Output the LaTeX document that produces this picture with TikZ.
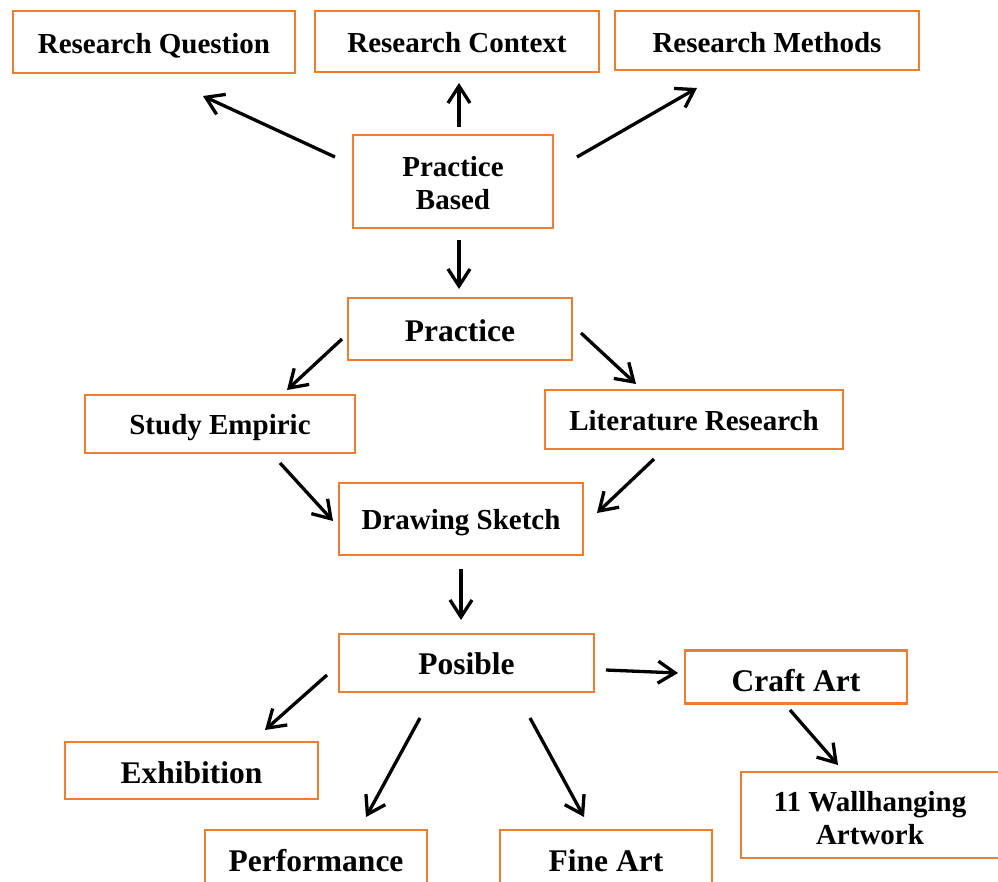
\documentclass[tikz,border=0pt]{standalone}
\usepackage{fontspec}
\setmainfont{Liberation Serif}
\usetikzlibrary{arrows.meta,calc}

\begin{document}
\begin{tikzpicture}[x=1pt, y=-1pt,
    tallbox/.style={draw=boxorange, line width=2.7pt, align=center, inner sep=0pt,
      font=\fontsize{29}{33}\selectfont\bfseries},
    box/.style={tallbox, text height=22pt, text depth=0pt},
    bigbox/.style={box, font=\fontsize{31.5}{34}\selectfont\bfseries},
    arr/.style={line width=3.3pt, -{Straight Barb[length=17pt, width=22pt]}}]
    \definecolor{boxorange}{HTML}{ED7D31}
    \useasboundingbox (0, 0) rectangle (998, 881);
    \clip (0, 0) rectangle (998, 881);
    % top row
    \node[box, minimum width=282pt, minimum height=62pt] (rq) at (154, 42) {Research Question};
    \node[box, text height=21pt, minimum width=284pt, minimum height=61pt] (rc) at (457, 41.5) {Research Context};
    \node[box, text height=23pt, minimum width=304pt, minimum height=59pt] (rm) at (767, 40.5) {Research Methods};
    \node[tallbox, minimum width=200pt, minimum height=93pt] (pb) at (453, 181.5) {\rule{0pt}{23pt}Practice\\Based};
    % middle
    \node[bigbox, text height=24pt, minimum width=224pt, minimum height=62pt] (pr) at (460, 329) {Practice};
    \node[box, text height=20pt, minimum width=270pt, minimum height=58pt] (se) at (220, 424) {Study Empiric};
    \node[box, text height=21pt, minimum width=298pt, minimum height=59pt] (lr) at (694, 419.5) {Literature Research};
    \node[box, text height=20pt, minimum width=244pt, minimum height=72pt] (ds) at (461, 519) {Drawing Sketch};
    % bottom
    \node[bigbox, minimum width=255pt, minimum height=58pt] (po) at (466.5, 663) {Posible};
    \node[bigbox, text height=28pt, minimum width=222pt, minimum height=53pt] (ca) at (796, 677) {Craft Art};
    \node[bigbox, text height=25pt, minimum width=253pt, minimum height=57pt] (ex) at (191.5, 770.5) {Exhibition};
    \node[bigbox, minimum width=222pt, minimum height=60pt] (pf) at (316, 860) {Performance};
    \node[bigbox, minimum width=212pt, minimum height=60pt] (fa) at (606, 860) {Fine Art};
    \node[tallbox, minimum width=258pt, minimum height=86pt] (wh) at (870, 815) {\rule{0pt}{26pt}11 Wallhanging\\Artwork};
    % arrows
    \draw[arr] ($(pb)+(-118, -24.5)$) -- ($(rq)+(49, 54)$);
    \draw[arr] ($(pb)+(6, -54.5)$) -- ($(rc)+(2, 41.5)$);
    \draw[arr] ($(pb)+(124, -24.5)$) -- ($(rm)+(-70, 47.5)$);
    \draw[arr] ($(pb)+(6, 58.5)$) -- ($(pr)+(-1, -40)$);
    \draw[arr] ($(pr)+(-118, 10)$) -- ($(se)+(67, -34)$);
    \draw[arr] ($(pr)+(121, 4)$) -- ($(lr)+(-58, -35.5)$);
    \draw[arr] ($(se)+(60, 39)$) -- ($(ds)+(-128, 2)$);
    \draw[arr] ($(lr)+(-40, 39.5)$) -- ($(ds)+(136, -6)$);
    \draw[arr] ($(ds)+(0, 50)$) -- ($(po)+(-5.5, -43)$);
    \draw[arr] ($(po)+(-139.5, 12)$) -- ($(ex)+(73.5, -40.5)$);
    \draw[arr] ($(po)+(-46.5, 55)$) -- ($(pf)+(50, -43)$);
    \draw[arr] ($(po)+(63.5, 55)$) -- ($(fa)+(-22, -43)$);
    \draw[arr] ($(po)+(139.5, 7)$) -- ($(ca)+(-118, -4)$);
    \draw[arr] ($(ca)+(-6, 33)$) -- ($(wh)+(-32, -50)$);
\end{tikzpicture}
\end{document}
